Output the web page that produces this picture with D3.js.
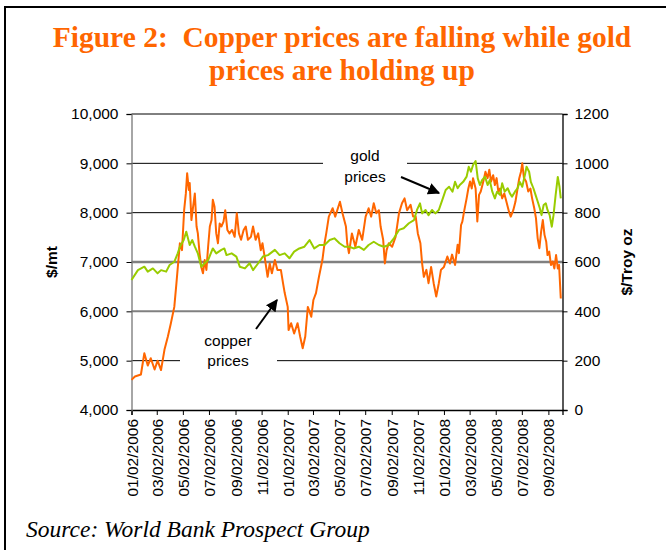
<!DOCTYPE html>
<html>
<head>
<meta charset="utf-8">
<script src="https://cdn.jsdelivr.net/npm/d3@7"></script>
<style>
  body { margin: 0; background: #fff; }
  svg { display: block; font-family: "Liberation Sans", Arial, sans-serif; }
</style>
</head>
<body>
<svg id="chart" width="666" height="550"></svg>
<script>
// copper, $/mt (left axis)
var copper = [
  ["2006-01-02",4610],["2006-01-10",4680],["2006-01-24",4720],["2006-02-01",5150],["2006-02-09",4900],
  ["2006-02-16",5050],["2006-02-25",4820],["2006-03-04",5000],["2006-03-12",4810],["2006-03-20",5220],
  ["2006-03-28",5490],["2006-04-04",5760],["2006-04-12",6090],["2006-04-17",6570],["2006-04-25",7380],
  ["2006-04-30",7240],["2006-05-05",8050],["2006-05-09",8390],["2006-05-12",8800],["2006-05-16",8460],
  ["2006-05-18",8600],["2006-05-22",7850],["2006-05-26",8120],["2006-05-30",8390],["2006-06-03",7720],
  ["2006-06-06",7580],["2006-06-10",7180],["2006-06-14",6900],["2006-06-18",6770],["2006-06-22",7040],
  ["2006-06-26",6840],["2006-06-30",7310],["2006-07-04",7720],["2006-07-08",7850],["2006-07-11",8260],
  ["2006-07-15",8120],["2006-07-19",7580],["2006-07-23",7380],["2006-07-27",7780],["2006-07-31",7720],
  ["2006-08-05",7820],["2006-08-09",8050],["2006-08-14",7650],["2006-08-19",7580],["2006-08-25",7650],
  ["2006-08-31",7510],["2006-09-05",7990],["2006-09-10",7580],["2006-09-15",7450],["2006-09-21",7650],
  ["2006-09-26",7720],["2006-10-01",7450],["2006-10-08",7510],["2006-10-13",7720],["2006-10-19",7450],
  ["2006-10-25",7580],["2006-10-31",7240],["2006-11-04",7380],["2006-11-09",7110],["2006-11-16",6700],
  ["2006-11-21",6970],["2006-11-26",6770],["2006-12-03",7040],["2006-12-09",6840],["2006-12-17",6840],
  ["2006-12-22",6570],["2006-12-26",6370],["2007-01-02",6090],["2007-01-04",5620],
  ["2007-01-10",5760],["2007-01-17",5550],["2007-01-25",5760],["2007-01-31",5490],["2007-02-06",5250],
  ["2007-02-12",5490],["2007-02-18",6090],["2007-02-26",5890],["2007-03-03",6230],["2007-03-09",6370],
  ["2007-03-16",6700],["2007-03-24",7040],["2007-03-29",7380],["2007-04-02",7580],["2007-04-08",7920],
  ["2007-04-17",8090],["2007-04-23",7920],["2007-05-04",8220],["2007-05-10",7990],["2007-05-18",7720],
  ["2007-05-21",7380],["2007-05-25",7180],["2007-06-01",7580],["2007-06-09",7310],["2007-06-17",7650],
  ["2007-06-25",7450],["2007-07-03",7920],["2007-07-10",8090],["2007-07-16",7920],["2007-07-22",8190],
  ["2007-07-28",7990],["2007-08-03",8050],["2007-08-07",7720],["2007-08-13",7450],["2007-08-17",6970],
  ["2007-08-21",7240],["2007-08-26",7380],["2007-09-03",7310],["2007-09-11",7510],["2007-09-19",7990],
  ["2007-09-26",8190],["2007-10-02",8290],["2007-10-08",8050],["2007-10-16",8160],["2007-10-22",7920],
  ["2007-10-28",7920],["2007-11-02",7580],["2007-11-08",7380],["2007-11-12",6970],["2007-11-16",6700],
  ["2007-11-22",6840],["2007-11-27",6570],["2007-12-03",6900],["2007-12-09",6570],["2007-12-15",6300],
  ["2007-12-21",6570],["2007-12-26",6840],["2008-01-02",6900],["2008-01-10",7110],["2008-01-16",6970],
  ["2008-01-21",7150],["2008-01-28",6940],["2008-02-03",7350],["2008-02-06",7180],["2008-02-11",7750],
  ["2008-02-14",7820],["2008-02-18",8020],["2008-02-24",8290],["2008-02-28",8490],["2008-03-03",8630],
  ["2008-03-07",8490],["2008-03-10",8700],["2008-03-16",8490],["2008-03-20",7820],["2008-03-24",8360],
  ["2008-03-28",8430],["2008-04-03",8630],["2008-04-08",8830],["2008-04-13",8700],["2008-04-17",8870],
  ["2008-04-21",8630],["2008-04-26",8760],["2008-04-30",8560],["2008-05-04",8700],["2008-05-08",8430],
  ["2008-05-12",8490],["2008-05-17",8290],["2008-05-22",8390],["2008-05-27",8220],["2008-06-02",8020],
  ["2008-06-06",7920],["2008-06-12",8050],["2008-06-17",8220],["2008-06-22",8490],["2008-06-26",8700],
  ["2008-06-30",8830],["2008-07-03",9000],["2008-07-07",8700],["2008-07-12",8630],["2008-07-17",8430],
  ["2008-07-22",8490],["2008-07-26",8290],["2008-07-31",8090],["2008-08-04",7890],["2008-08-08",7480],
  ["2008-08-12",7280],["2008-08-16",7610],["2008-08-20",7850],["2008-08-24",7550],["2008-08-28",7410],
  ["2008-08-31",7140],["2008-09-04",7210],["2008-09-08",6940],["2008-09-12",7010],["2008-09-16",6870],
  ["2008-09-20",7140],["2008-09-24",6870],["2008-09-27",6940],["2008-10-01",6260]
];

// gold, $/troy oz (right axis)
var gold = [
  ["2006-01-02",527],["2006-01-17",567],["2006-02-01",581],["2006-02-09",561],["2006-02-21",574],
  ["2006-03-04",554],["2006-03-12",567],["2006-03-24",561],["2006-04-01",588],["2006-04-12",601],
  ["2006-04-20",635],["2006-04-25",662],["2006-05-04",689],["2006-05-10",723],["2006-05-18",669],
  ["2006-05-24",689],["2006-05-30",662],["2006-06-06",635],["2006-06-14",581],["2006-06-22",595],
  ["2006-06-30",608],["2006-07-11",655],["2006-07-19",635],["2006-07-31",649],["2006-08-07",655],
  ["2006-08-12",628],["2006-08-24",635],["2006-09-04",622],["2006-09-12",581],["2006-09-24",574],
  ["2006-10-05",595],["2006-10-13",567],["2006-10-25",595],["2006-11-05",622],["2006-11-17",628],
  ["2006-12-03",649],["2006-12-14",628],["2006-12-26",635],["2007-01-06",615],["2007-01-17",642],
  ["2007-01-29",655],["2007-02-10",662],["2007-02-22",689],["2007-03-05",655],["2007-03-17",669],
  ["2007-03-29",669],["2007-04-10",689],["2007-04-21",696],["2007-05-03",676],["2007-05-15",662],
  ["2007-05-26",662],["2007-06-05",655],["2007-06-17",662],["2007-06-29",649],["2007-07-10",669],
  ["2007-07-22",682],["2007-08-03",669],["2007-08-15",662],["2007-08-26",669],["2007-09-07",696],
  ["2007-09-19",730],["2007-09-30",737],["2007-10-12",757],["2007-10-24",770],["2007-10-31",811],
  ["2007-11-07",838],["2007-11-12",797],["2007-11-20",811],["2007-11-27",790],["2007-12-05",811],
  ["2007-12-13",797],["2007-12-21",811],["2007-12-29",851],["2008-01-06",892],["2008-01-14",905],
  ["2008-01-22",885],["2008-01-28",925],["2008-02-03",899],["2008-02-08",912],["2008-02-16",925],
  ["2008-02-24",946],["2008-02-29",986],["2008-03-05",966],["2008-03-10",993],["2008-03-16",1009],
  ["2008-03-21",939],["2008-03-26",912],["2008-03-31",932],["2008-04-07",946],["2008-04-13",912],
  ["2008-04-18",932],["2008-04-24",885],["2008-04-30",858],["2008-05-05",885],["2008-05-12",872],
  ["2008-05-17",919],["2008-05-23",885],["2008-05-30",899],["2008-06-04",878],["2008-06-09",865],
  ["2008-06-16",885],["2008-06-22",899],["2008-06-27",925],["2008-07-03",905],["2008-07-09",952],
  ["2008-07-13",986],["2008-07-19",966],["2008-07-23",925],["2008-07-29",899],["2008-08-03",872],
  ["2008-08-08",845],["2008-08-13",818],["2008-08-17",790],["2008-08-22",831],["2008-08-27",838],
  ["2008-08-31",811],["2008-09-05",790],["2008-09-10",743],["2008-09-14",790],["2008-09-19",872],
  ["2008-09-24",945],["2008-09-28",905],["2008-10-01",858]
];

var xTickLabels = ["01/02/2006","03/02/2006","05/02/2006","07/02/2006","09/02/2006","11/02/2006",
  "01/02/2007","03/02/2007","05/02/2007","07/02/2007","09/02/2007","11/02/2007",
  "01/02/2008","03/02/2008","05/02/2008","07/02/2008","09/02/2008"];
var leftTicks = [4000, 5000, 6000, 7000, 8000, 9000, 10000];
var rightTicks = [0, 200, 400, 600, 800, 1000, 1200];

var svg = d3.select("#chart");
var plotLeft = 131.5, plotRight = 562.5, plotTop = 114, plotBottom = 410;
var parseIso = d3.timeParse("%Y-%m-%d");
var parseUs = d3.timeParse("%m/%d/%Y");

var x = d3.scaleTime()
    .domain([parseIso("2006-01-02"), parseIso("2008-10-05")])
    .range([plotLeft, plotRight]);
var yL = d3.scaleLinear().domain([4000, 10000]).range([plotBottom, plotTop]);
var yR = d3.scaleLinear().domain([0, 1200]).range([plotBottom, plotTop]);

svg.append("rect").attr("width", 666).attr("height", 550).attr("fill", "#fff");

// outer frame (left + top edges visible)
svg.append("path")
    .attr("d", "M5,550V7H666")
    .attr("fill", "none")
    .attr("stroke", "#000")
    .attr("stroke-width", 2);

// title
var title = svg.append("text")
    .attr("text-anchor", "middle")
    .attr("fill", "#ff6600")
    .style("font-family", "'Liberation Serif', 'Times New Roman', serif")
    .style("font-weight", "bold")
    .style("font-size", "29.5px")
    .style("white-space", "pre");
title.append("tspan").attr("x", 342).attr("y", 47).text("Figure 2:  Copper prices are falling while gold");
title.append("tspan").attr("x", 342).attr("y", 80).text("prices are holding up");

// gridlines
svg.append("g").selectAll("line")
    .data(leftTicks.slice(1))
    .enter().append("line")
    .attr("x1", plotLeft).attr("x2", plotRight)
    .attr("y1", function (d) { return yL(d); })
    .attr("y2", function (d) { return yL(d); })
    .attr("stroke", function (d) { return (d === 7000 || d === 6000) ? "#808080" : "#000"; })
    .attr("stroke-width", function (d) { return d === 7000 ? 2.5 : (d === 6000 ? 2 : 1); });

// white gaps behind annotation text
svg.append("rect").attr("x", 323).attr("y", 158).attr("width", 84).attr("height", 10).attr("fill", "#fff");
svg.append("rect").attr("x", 180).attr("y", 355).attr("width", 97).attr("height", 10).attr("fill", "#fff");

// axes
var xAxis = d3.axisBottom(x)
    .tickValues(xTickLabels.map(parseUs))
    .tickSize(5)
    .tickFormat(d3.timeFormat("%m/%d/%Y"));
var gx = svg.append("g").attr("transform", "translate(0," + plotBottom + ")").call(xAxis);
gx.selectAll("text")
    .attr("transform", "rotate(-90)")
    .attr("text-anchor", "end")
    .attr("x", -9)
    .attr("y", 0)
    .attr("dy", "0.36em");

var gl = svg.append("g").attr("transform", "translate(" + plotLeft + ",0)")
    .call(d3.axisLeft(yL).tickValues(leftTicks).tickSize(5).tickPadding(8).tickFormat(d3.format(",")));
var gr = svg.append("g").attr("transform", "translate(" + plotRight + ",0)")
    .call(d3.axisRight(yR).tickValues(rightTicks).tickSize(5).tickPadding(7).tickFormat(d3.format("d")));

svg.selectAll(".domain").attr("stroke", "#000").attr("stroke-width", 1.3);
svg.selectAll(".tick line").attr("stroke", "#000");
svg.selectAll(".tick text")
    .attr("fill", "#000")
    .style("font-family", "'Liberation Sans', Arial, sans-serif")
    .style("font-size", "15.5px");
gl.select(".domain").attr("stroke", "#777");

// axis titles
svg.append("text")
    .attr("transform", "translate(57,262) rotate(-90)")
    .attr("text-anchor", "middle")
    .style("font-weight", "bold").style("font-size", "15.5px")
    .text("$/mt");
svg.append("text")
    .attr("transform", "translate(632,262) rotate(-90)")
    .attr("text-anchor", "middle")
    .style("font-weight", "bold").style("font-size", "15.5px")
    .text("$/Troy oz");

// series
var copperLine = d3.line()
    .x(function (d) { return x(parseIso(d[0])); })
    .y(function (d) { return yL(d[1]); });
var goldLine = d3.line()
    .x(function (d) { return x(parseIso(d[0])); })
    .y(function (d) { return yR(d[1]); });

svg.append("path").datum(copper)
    .attr("d", copperLine)
    .attr("fill", "none").attr("stroke", "#ff6600")
    .attr("stroke-width", 2).attr("stroke-linejoin", "round");
svg.append("path").datum(gold)
    .attr("d", goldLine)
    .attr("fill", "none").attr("stroke", "#99cc00")
    .attr("stroke-width", 2).attr("stroke-linejoin", "round");

// annotations
svg.append("svg:defs").append("svg:marker")
    .attr("id", "arrow")
    .attr("viewBox", "0 -5 10 10")
    .attr("refX", 9)
    .attr("markerWidth", 6)
    .attr("markerHeight", 6)
    .attr("orient", "auto")
    .append("svg:path")
    .attr("d", "M0,-5L10,0L0,5")
    .attr("fill", "#000");

var note = svg.append("g")
    .attr("text-anchor", "middle")
    .style("font-size", "15.5px");
note.append("text").attr("x", 365).attr("y", 161).text("gold");
note.append("text").attr("x", 365).attr("y", 182).text("prices");
note.append("text").attr("x", 228).attr("y", 346).text("copper");
note.append("text").attr("x", 228).attr("y", 366).text("prices");

svg.append("line")
    .attr("x1", 401).attr("y1", 177).attr("x2", 439).attr("y2", 193)
    .attr("stroke", "#000").attr("stroke-width", 2)
    .attr("marker-end", "url(#arrow)");
svg.append("line")
    .attr("x1", 256).attr("y1", 329).attr("x2", 277).attr("y2", 300)
    .attr("stroke", "#000").attr("stroke-width", 2)
    .attr("marker-end", "url(#arrow)");

// source
svg.append("text")
    .attr("x", 26).attr("y", 537)
    .style("font-family", "'Liberation Serif', 'Times New Roman', serif")
    .style("font-style", "italic")
    .style("font-size", "23.5px")
    .text("Source: World Bank Prospect Group");
</script>
</body>
</html>
